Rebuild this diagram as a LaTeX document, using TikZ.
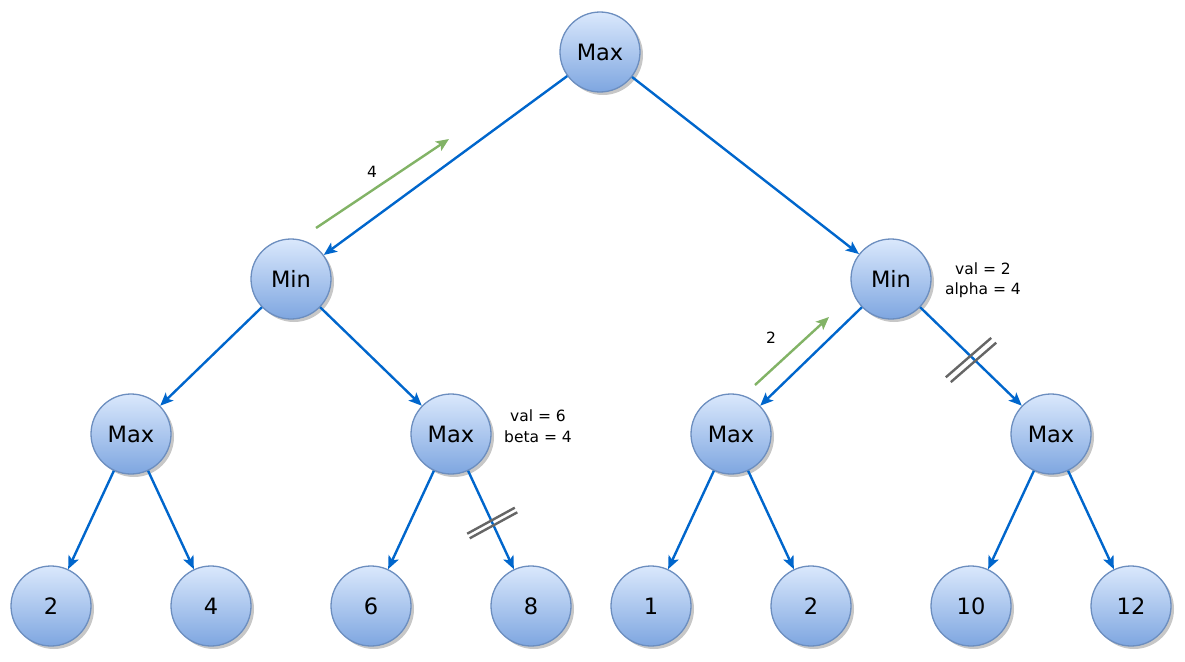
\documentclass[tikz,border=0pt]{standalone}
\usepackage{fontspec}
\setmainfont{DejaVu Sans}
\usetikzlibrary{arrows.meta,shadows}
\definecolor{edgeblue}{HTML}{0066CC}
\definecolor{nodeborder}{HTML}{6C8EBF}
\definecolor{nodetop}{HTML}{DAE8FC}
\definecolor{nodebot}{HTML}{7EA6E0}
\definecolor{greenarr}{HTML}{82B366}
\definecolor{cutgray}{HTML}{666666}
\begin{document}
\begin{tikzpicture}[x=1pt,y=-1pt,
  tnode/.style={circle, minimum size=80pt, inner sep=0pt, draw=nodeborder, line width=1.3pt,
    top color=nodetop, bottom color=nodebot, font=\fontsize{22.5}{26}\selectfont,
    drop shadow={shadow xshift=3pt, shadow yshift=-3pt, opacity=0.22, fill=black}},
  tedge/.style={draw=edgeblue, line width=2.4pt, -{Stealth[length=13pt,width=11pt,inset=3pt]}},
  garrow/.style={draw=greenarr, line width=2.4pt, -{Stealth[length=13pt,width=11pt,inset=3pt]}},
  cutmark/.style={draw=cutgray, line width=2.4pt},
  lbl/.style={font=\fontsize{15.5}{20.5}\selectfont, align=center, inner sep=0pt}
]
\useasboundingbox (0,0) rectangle (1185,661);
% nodes
\node[tnode] (root) at (600,52) {Max};
\node[tnode] (minL) at (291,279) {Min};
\node[tnode] (minR) at (891,279) {Min};
\node[tnode] (maxA) at (131,434) {Max};
\node[tnode] (maxB) at (451,434) {Max};
\node[tnode] (maxC) at (731,434) {Max};
\node[tnode] (maxD) at (1051,434) {Max};
\node[tnode] (l1) at (51,606) {2};
\node[tnode] (l2) at (211,606) {4};
\node[tnode] (l3) at (371,606) {6};
\node[tnode] (l4) at (531,606) {8};
\node[tnode] (l5) at (651,606) {1};
\node[tnode] (l6) at (811,606) {2};
\node[tnode] (l7) at (971,606) {10};
\node[tnode] (l8) at (1131,606) {12};
% edges
\draw[tedge] (root) -- (minL);
\draw[tedge] (root) -- (minR);
\draw[tedge] (minL) -- (maxA);
\draw[tedge] (minL) -- (maxB);
\draw[tedge] (minR) -- (maxC);
\draw[tedge] (minR) -- (maxD);
\draw[tedge] (maxA) -- (l1);
\draw[tedge] (maxA) -- (l2);
\draw[tedge] (maxB) -- (l3);
\draw[tedge] (maxB) -- (l4);
\draw[tedge] (maxC) -- (l5);
\draw[tedge] (maxC) -- (l6);
\draw[tedge] (maxD) -- (l7);
\draw[tedge] (maxD) -- (l8);
% green arrows
\coordinate (g1s) at (316,228);
\coordinate (g1e) at (449,139);
\coordinate (g2s) at (755,385);
\coordinate (g2e) at (829,317);
\draw[garrow] (g1s) -- (g1e);
\draw[garrow] (g2s) -- (g2e);
% labels
\node[lbl] (t4) at (372,172) {4};
\node[lbl] (t2) at (771,338) {2};
\node[lbl] (vb) at (538,426) {val = 6\\beta = 4};
\node[lbl] (vr) at (983,280) {val = 2\\alpha = 4};
% cut marks
\draw[cutmark] (467.2,533.7) -- (514.8,507.7);
\draw[cutmark] (469.7,538.3) -- (517.3,512.3);
\draw[cutmark] (945.8,377.3) -- (991.2,337.9);
\draw[cutmark] (950.8,382.1) -- (996.2,342.7);
\end{tikzpicture}
\end{document}
